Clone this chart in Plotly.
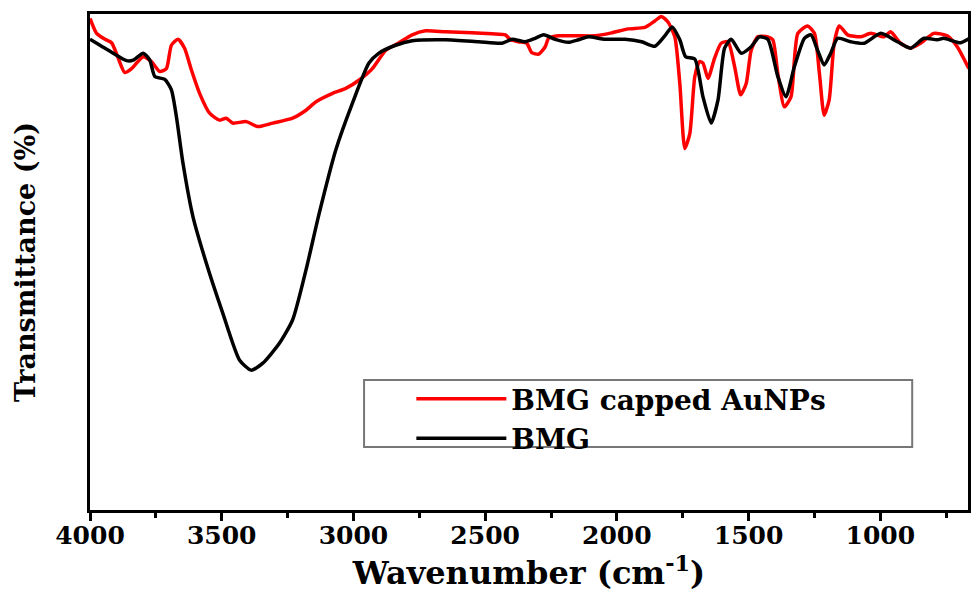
import plotly.graph_objects as go

# Wavenumber (cm^-1) and transmittance (arbitrary %)
wn_capped = [4000, 3975, 3943, 3918, 3893, 3868, 3842, 3798, 3767, 3735, 3710, 3691, 3666, 3641,
             3615, 3584, 3546, 3508, 3483, 3458, 3407, 3363, 3306, 3231, 3180, 3142, 3079, 3029,
             2978, 2928, 2877, 2827, 2777, 2726, 2650, 2550, 2474, 2423, 2404, 2373, 2342, 2323,
             2297, 2272, 2259, 2222, 2146, 2083, 2020, 1957, 1894, 1856, 1831, 1806, 1780, 1761,
             1742, 1723, 1704, 1686, 1673, 1654, 1629, 1604, 1578, 1553, 1530, 1509, 1490, 1465,
             1427, 1408, 1389, 1364, 1339, 1313, 1276, 1250, 1231, 1213, 1194, 1175, 1156, 1124,
             1074, 1036, 986, 961, 923, 885, 847, 797, 746, 708, 664]
t_capped = [99.1, 96.1, 94.9, 94.2, 91.1, 88.2, 89.0, 91.4, 90.4, 88.4, 89.0, 93.7, 94.9, 93.1,
            88.7, 84.0, 80.0, 78.6, 79.0, 78.0, 78.3, 77.3, 78.0, 79.0, 80.6, 82.3, 84.0, 85.0,
            86.7, 89.0, 92.7, 94.2, 95.8, 96.6, 96.4, 96.2, 96.0, 95.8, 94.8, 94.4, 94.1, 92.2,
            91.9, 93.4, 95.1, 95.6, 95.6, 95.6, 96.2, 97.0, 97.3, 98.6, 99.5, 98.4, 95.4, 86.0,
            72.9, 75.9, 87.4, 90.4, 90.1, 87.0, 91.1, 94.1, 94.4, 89.4, 83.7, 86.0, 92.7, 95.4,
            95.4, 94.8, 88.0, 81.3, 83.3, 96.1, 97.6, 96.1, 88.0, 79.6, 82.7, 94.1, 97.6, 95.8,
            95.4, 96.1, 95.4, 96.4, 94.1, 93.1, 94.1, 96.1, 95.6, 93.4, 89.0]

wn_bmg = [4000, 3962, 3912, 3861, 3836, 3798, 3773, 3754, 3716, 3691, 3672, 3647, 3609, 3558,
          3496, 3432, 3388, 3344, 3281, 3231, 3180, 3130, 3067, 3004, 2941, 2903, 2840, 2777,
          2650, 2524, 2436, 2398, 2348, 2310, 2278, 2234, 2184, 2146, 2108, 2045, 1969, 1906,
          1856, 1818, 1790, 1761, 1739, 1704, 1673, 1642, 1616, 1591, 1566, 1528, 1490, 1459,
          1427, 1389, 1358, 1326, 1288, 1263, 1238, 1213, 1188, 1162, 1112, 1061, 998, 935,
          885, 834, 784, 759, 696, 660]
t_bmg = [94.9, 93.7, 92.1, 90.6, 90.7, 92.1, 90.7, 87.4, 86.8, 84.7, 79.3, 69.9, 59.1, 49.7,
         39.7, 30.2, 28.2, 29.6, 33.6, 38.3, 48.4, 59.8, 72.6, 82.0, 90.1, 92.1, 93.7, 94.6,
         94.8, 94.4, 94.1, 94.9, 94.4, 95.1, 95.8, 94.9, 94.3, 94.8, 95.4, 94.9, 94.9, 94.4,
         93.5, 95.6, 97.4, 94.8, 91.4, 90.9, 83.3, 78.0, 82.7, 93.1, 94.9, 92.1, 93.4, 95.4,
         94.9, 87.4, 83.3, 89.4, 95.1, 95.8, 92.7, 89.7, 92.1, 95.1, 94.4, 94.1, 96.1, 94.4,
         93.1, 95.1, 94.8, 95.1, 94.2, 95.1]

x_ticks = [4000, 3500, 3000, 2500, 2000, 1500, 1000]
x_range = [4000, 667]
y_range = [0, 100]

FONT = "DejaVu Serif"

fig = go.Figure()
fig.add_trace(go.Scatter(x=wn_capped, y=t_capped, mode="lines", name="BMG capped AuNPs",
                         line=dict(color="#ff0000", width=3.5, shape="spline", smoothing=0.6)))
fig.add_trace(go.Scatter(x=wn_bmg, y=t_bmg, mode="lines", name="BMG",
                         line=dict(color="#000000", width=3.5, shape="spline", smoothing=0.6)))

fig.update_layout(
    width=973, height=592,
    margin=dict(l=90, r=2, t=14, b=82),
    paper_bgcolor="white", plot_bgcolor="white",
    font=dict(family=FONT, color="black"),
    showlegend=True,
    legend=dict(x=0.366, y=0.274, xanchor="left", yanchor="top",
                bgcolor="rgba(0,0,0,0)", borderwidth=0,
                font=dict(family=FONT, size=28, color="black", weight="bold"),
                itemwidth=90, tracegroupgap=0),
    shapes=[dict(type="rect", xref="paper", yref="paper",
                 x0=(365 - 90) / 881, x1=(915 - 90) / 881,
                 y0=(510 - 447) / 496, y1=(510 - 380) / 496,
                 line=dict(color="#777777", width=2), fillcolor="rgba(0,0,0,0)")],
)

fig.update_xaxes(
    range=x_range, tickvals=x_ticks, ticktext=[str(v) for v in x_ticks],
    showline=True, linewidth=3, linecolor="black", mirror=True,
    ticks="outside", ticklen=8, tickwidth=3, tickcolor="black",
    ticklabelstandoff=-7,
    minor=dict(dtick=250, tick0=0, ticks="outside", ticklen=5, tickwidth=3, tickcolor="black"),
    showgrid=False, zeroline=False,
    tickfont=dict(family=FONT, size=25, color="black", weight="bold"),
    title=dict(text="Wavenumber (cm<sup>-1</sup>)", standoff=8,
               font=dict(family=FONT, size=32, color="black", weight="bold")),
)
fig.update_yaxes(
    range=y_range, showticklabels=False, ticks="",
    showline=True, linewidth=3, linecolor="black", mirror=True,
    showgrid=False, zeroline=False,
    title=dict(text="Transmittance (%)", standoff=44,
               font=dict(family=FONT, size=27, color="black", weight="bold")),
)

fig.write_html("out.html")
